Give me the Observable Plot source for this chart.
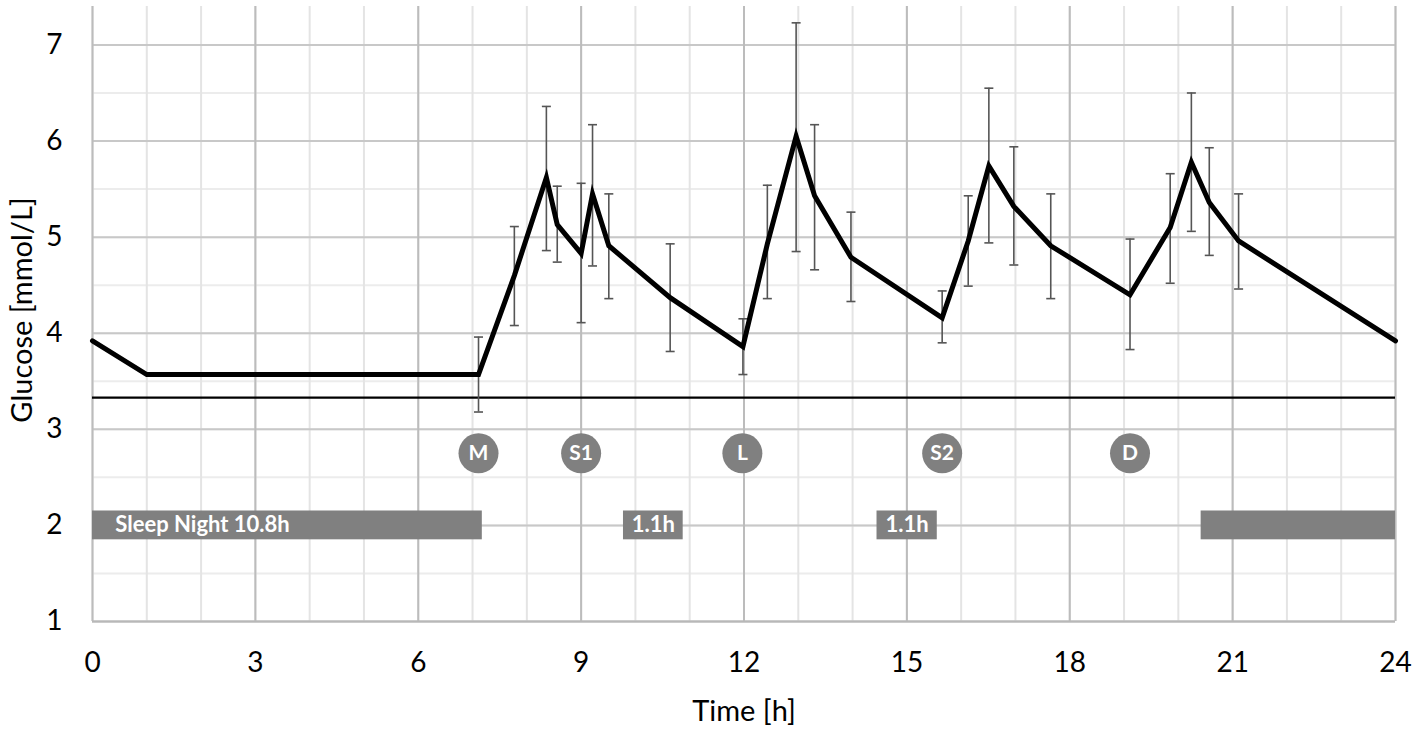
<!DOCTYPE html>
<html>
<head>
<meta charset="utf-8">
<script src="https://cdn.jsdelivr.net/npm/d3@7"></script>
<script src="https://cdn.jsdelivr.net/npm/@observablehq/plot@0.6"></script>
<style>
  html, body { margin: 0; padding: 0; background: #fff; }
  #chart svg { display: block; }
</style>
</head>
<body>
<div id="chart"></div>
<script>
// ---- data ----
const times  = [0, 1, 7.11, 7.77, 8.36, 8.56, 9.0, 9.21, 9.51, 10.64, 11.98, 12.43, 12.96, 13.3, 13.97, 15.65, 16.13, 16.51, 16.97, 17.65, 19.11, 19.85, 20.24, 20.57, 21.11, 24];
const glucose = [3.92, 3.57, 3.57, 4.60, 5.62, 5.13, 4.83, 5.45, 4.91, 4.37, 3.86, 4.93, 6.05, 5.43, 4.79, 4.16, 4.96, 5.74, 5.32, 4.91, 4.40, 5.10, 5.78, 5.36, 4.96, 3.92];
const errLow  = [null, null, 3.18, 4.08, 4.86, 4.74, 4.11, 4.70, 4.36, 3.81, 3.57, 4.36, 4.85, 4.66, 4.33, 3.90, 4.49, 4.94, 4.71, 4.36, 3.83, 4.52, 5.06, 4.81, 4.46, null];
const errHigh = [null, null, 3.96, 5.11, 6.36, 5.53, 5.56, 6.17, 5.45, 4.93, 4.15, 5.54, 7.23, 6.17, 5.26, 4.44, 5.43, 6.55, 5.94, 5.45, 4.98, 5.66, 6.50, 5.93, 5.45, null];
const threshold = 3.33;

const mealLabels = ["M", "S1", "L", "S2", "D"];
const mealTimes  = [7.11, 9.0, 11.97, 15.65, 19.11];
const mealLevel  = 2.75;

const sleepStart  = [0, 9.78, 14.45, 20.42];
const sleepEnd    = [7.18, 10.88, 15.56, 24];
const sleepLabels = ["Sleep Night 10.8h", "1.1h", "1.1h", ""];
const sleepLevel  = 2;
const sleepHalf   = 0.15;

const xTicks = [0, 3, 6, 9, 12, 15, 18, 21, 24];
const xMinor = d3.range(0, 25, 1);
const yTicks = [1, 2, 3, 4, 5, 6, 7];
const yMinor = d3.range(1, 7.5, 0.5);

// ---- tables ----
const series = times.map((t, i) => ({t, g: glucose[i], lo: errLow[i], hi: errHigh[i]}));
const bars = series.filter(d => d.lo != null);
const meals = mealLabels.map((l, i) => ({l, t: mealTimes[i], y: mealLevel}));
const sleeps = sleepStart.map((s, i) => ({x1: s, x2: sleepEnd[i], label: sleepLabels[i], y1: sleepLevel - sleepHalf, y2: sleepLevel + sleepHalf}));

const capSymbol = {draw(ctx) { ctx.moveTo(-4.5, 0); ctx.lineTo(4.5, 0); }};
const font = "Lato, 'Open Sans', sans-serif";

const chart = Plot.plot({
  width: 1418,
  height: 735,
  marginLeft: 92,
  marginRight: 23,
  marginTop: 6,
  marginBottom: 114,
  style: {fontFamily: font, background: "#fff", color: "#000"},
  x: {type: "linear", domain: [0, 24]},
  y: {type: "linear", domain: [1, 7.4]},
  marks: [
    Plot.ruleY(yMinor, {stroke: "#ececec", strokeWidth: 2, x1: 0, x2: 24}),
    Plot.ruleX(xMinor, {stroke: "#e4e4e4", strokeWidth: 2}),
    Plot.ruleY(yTicks, {stroke: "#c8c8c8", strokeWidth: 2, x1: 0, x2: 24}),
    Plot.ruleX(xTicks, {stroke: "#bcbcbc", strokeWidth: 2}),
    Plot.ruleY([1], {stroke: "#b8b8b8", strokeWidth: 2, x1: 0, x2: 24}),
    // sleep bars
    Plot.rect(sleeps, {x1: "x1", x2: "x2", y1: "y1", y2: "y2", fill: "#808080"}),
    Plot.text(sleeps.filter(d => d.label.startsWith("Sleep")), {x: d => d.x1 + 0.42, y: sleepLevel, text: "label", fill: "#fff", fontWeight: "bold", fontSize: 22, textAnchor: "start"}),
    Plot.text(sleeps.filter(d => d.label && !d.label.startsWith("Sleep")), {x: d => (d.x1 + d.x2) / 2, y: sleepLevel, text: "label", fill: "#fff", fontWeight: "bold", fontSize: 22}),
    // meal markers
    Plot.dot(meals, {x: "t", y: "y", r: 20, fill: "#808080", stroke: "none"}),
    Plot.text(meals, {x: "t", y: "y", text: "l", fill: "#fff", fontWeight: "bold", fontSize: 21}),
    // threshold
    Plot.ruleY([threshold], {x1: 0, x2: 24, stroke: "#000", strokeWidth: 2.2}),
    // error bars
    Plot.ruleX(bars, {x: "t", y1: "lo", y2: "hi", stroke: "#555", strokeWidth: 1.6}),
    Plot.dot(bars, {x: "t", y: "lo", symbol: capSymbol, r: 4.5, stroke: "#555", strokeWidth: 1.6, fill: "none"}),
    Plot.dot(bars, {x: "t", y: "hi", symbol: capSymbol, r: 4.5, stroke: "#555", strokeWidth: 1.6, fill: "none"}),
    // mean curve
    Plot.line(series, {x: "t", y: "g", stroke: "#000", strokeWidth: 5, strokeLinejoin: "miter", strokeMiterlimit: 10}),
    // axes
    Plot.axisX(xTicks, {tickSize: 0, tickPadding: 31, fontSize: 28, label: null, fill: "#000", tickFormat: d => String(d)}),
    Plot.axisY(yTicks, {tickSize: 0, tickPadding: 30, fontSize: 28, label: null, fill: "#000", tickFormat: d => String(d)}),
    Plot.text(["Time [h]"], {frameAnchor: "bottom", dy: 99, fontSize: 29, fill: "#000", textAnchor: "middle"}),
    Plot.text(["Glucose [mmol/L]"], {frameAnchor: "left", dx: -70, dy: -4, rotate: -90, fontSize: 29, fill: "#000", textAnchor: "middle"})
  ]
});

document.getElementById("chart").appendChild(chart);
</script>
</body>
</html>
